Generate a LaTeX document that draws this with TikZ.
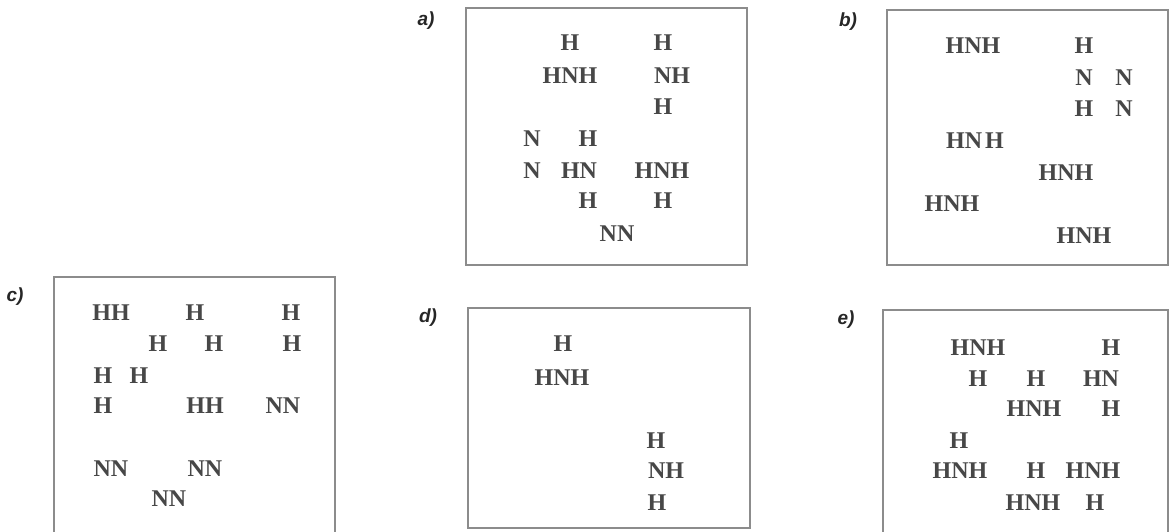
\documentclass[tikz,border=0pt]{standalone}
\usepackage{fontspec}
\setmainfont{Liberation Serif}
\newfontfamily\tagfont{Liberation Sans}
\begin{document}
\begin{tikzpicture}[x=1pt,y=-1pt,
  txt/.style={anchor=base,inner sep=0pt,text=black!72,font=\fontsize{24}{24}\selectfont\bfseries},
  tag/.style={anchor=center,inner sep=0pt,text=black!85,font=\tagfont\fontsize{19}{19}\selectfont\bfseries\itshape},
  panel/.style={draw=black!45,line width=1.4pt}]
\useasboundingbox (0,0) rectangle (1171,531);
% panels
\draw[panel] (466,8) rectangle (747,265);
\draw[panel] (887,10) rectangle (1168,265);
\draw[panel] (54,277) rectangle (335,533);
\draw[panel] (468,308) rectangle (750,528);
\draw[panel] (883,310) rectangle (1168,533);
% tags
\node[tag] (ta) at (426,21) {a)};
\node[tag] (tb) at (848,22) {b)};
\node[tag] (tc) at (15,297) {c)};
\node[tag] (td) at (428,318) {d)};
\node[tag] (te) at (846,320) {e)};
% panel a
\node[txt] (a1) at (570,50) {H};
\node[txt] (a2) at (663,50) {H};
\node[txt] (a3) at (570,83) {HNH};
\node[txt] (a4) at (672,83) {NH};
\node[txt] (a5) at (663,114) {H};
\node[txt] (a6) at (532,146) {N};
\node[txt] (a7) at (588,146) {H};
\node[txt] (a8) at (532,178) {N};
\node[txt] (a9) at (579,178) {HN};
\node[txt] (a10) at (662,178) {HNH};
\node[txt] (a11) at (588,208) {H};
\node[txt] (a12) at (663,208) {H};
\node[txt] (a13) at (617,241) {NN};
% panel b
\node[txt] (b1) at (973,53) {HNH};
\node[txt] (b2) at (1084,53) {H};
\node[txt] (b3) at (1084,85) {N};
\node[txt] (b4) at (1124,85) {N};
\node[txt] (b5) at (1084,116) {H};
\node[txt] (b6) at (1124,116) {N};
\node[txt] (b7) at (975,148) {HN\kern3pt H};
\node[txt] (b8) at (1066,180) {HNH};
\node[txt] (b9) at (952,211) {HNH};
\node[txt] (b10) at (1084,243) {HNH};
% panel c
\node[txt] (c1) at (111,320) {HH};
\node[txt] (c2) at (195,320) {H};
\node[txt] (c3) at (291,320) {H};
\node[txt] (c4) at (158,351) {H};
\node[txt] (c5) at (214,351) {H};
\node[txt] (c6) at (292,351) {H};
\node[txt] (c7) at (103,383) {H};
\node[txt] (c8) at (139,383) {H};
\node[txt] (c9) at (103,413) {H};
\node[txt] (c10) at (205,413) {HH};
\node[txt] (c11) at (283,413) {NN};
\node[txt] (c12) at (111,476) {NN};
\node[txt] (c13) at (205,476) {NN};
\node[txt] (c14) at (169,506) {NN};
% panel d
\node[txt] (d1) at (563,351) {H};
\node[txt] (d2) at (562,385) {HNH};
\node[txt] (d3) at (656,448) {H};
\node[txt] (d4) at (666,478) {NH};
\node[txt] (d5) at (657,510) {H};
% panel e
\node[txt] (e1) at (978,355) {HNH};
\node[txt] (e2) at (1111,355) {H};
\node[txt] (e3) at (978,386) {H};
\node[txt] (e4) at (1036,386) {H};
\node[txt] (e5) at (1101,386) {HN};
\node[txt] (e6) at (1034,416) {HNH};
\node[txt] (e7) at (1111,416) {H};
\node[txt] (e8) at (959,448) {H};
\node[txt] (e9) at (960,478) {HNH};
\node[txt] (e10) at (1036,478) {H};
\node[txt] (e11) at (1093,478) {HNH};
\node[txt] (e12) at (1033,510) {HNH};
\node[txt] (e13) at (1095,510) {H};
\end{tikzpicture}
\end{document}
